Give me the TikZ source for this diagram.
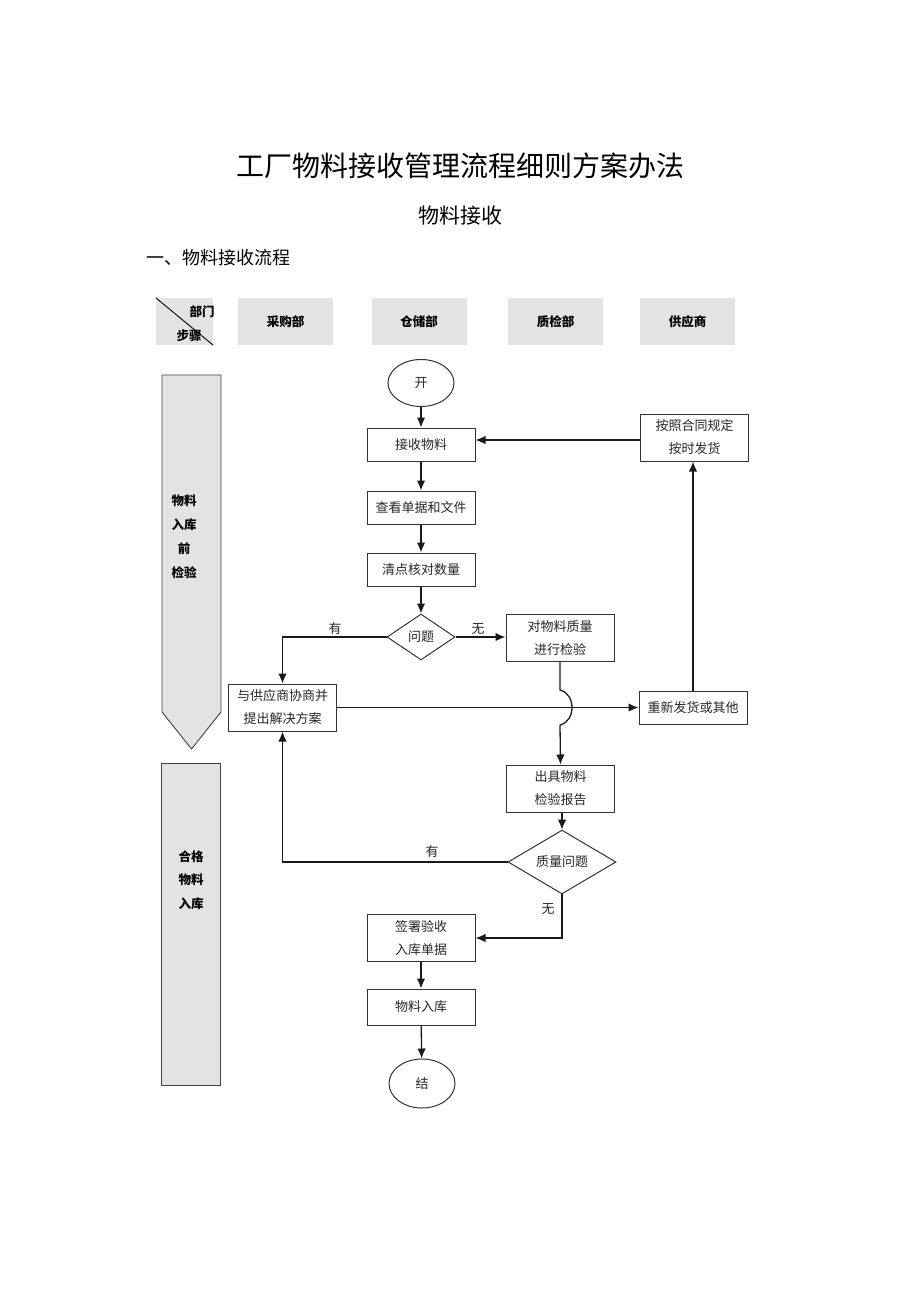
\documentclass[tikz,border=0pt]{standalone}
\usepackage{fontspec}
\setmainfont{Noto Sans CJK SC}
\usetikzlibrary{arrows.meta,shapes.geometric}
\begin{document}
\begin{tikzpicture}[x=1pt,y=-1pt,
  every node/.style={inner sep=0pt},
  hdr/.style={fill=black!11, minimum width=95pt, minimum height=47pt, font=\fontsize{12.5}{14}\selectfont\bfseries},
  box/.style={draw=black!80, line width=1pt, minimum width=108pt, minimum height=33pt, align=center, text=black!85, font=\fontsize{13}{23}\selectfont},
  tall/.style={box, minimum height=47pt},
  dia/.style={draw=black!80, line width=1pt, diamond, aspect=1, minimum width=68pt, minimum height=46pt, text=black!85, font=\fontsize{13}{15}\selectfont},
  oval/.style={draw=black!80, line width=1pt, ellipse, minimum width=66pt, minimum height=47pt, text=black!85, font=\fontsize{13}{15}\selectfont},
  lbl/.style={text=black!85, font=\fontsize{13}{15}\selectfont},
  arr/.style={line width=1.3pt, draw=black!90, -{Latex[length=10pt,width=8.5pt]}},
  ln/.style={line width=1.3pt, draw=black!90}
]
\useasboundingbox (0,0) rectangle (920,1302);
% titles
\node (t1) at (460,166) {\fontsize{28}{30}\selectfont 工厂物料接收管理流程细则方案办法};
\node (t2) at (460,216) {\fontsize{21}{23}\selectfont 物料接收};
\node[anchor=west] (t3) at (146,258) {\fontsize{18}{20}\selectfont 一、物料接收流程};
% header
\node[hdr, minimum width=57pt] (h0) at (184.5,321.5) {};
\draw[line width=0.9pt] (h0.north west) -- (h0.south east);
\node[font=\fontsize{12.5}{14}\selectfont\bfseries] (h0a) at (202,312) {部门};
\node[font=\fontsize{12.5}{14}\selectfont\bfseries] (h0b) at (189,336) {步骤};
\node[hdr] (h1) at (285.5,321.5) {采购部};
\node[hdr] (h2) at (419,321.5) {仓储部};
\node[hdr] (h3) at (555.5,321.5) {质检部};
\node[hdr] (h4) at (687.5,321.5) {供应商};
% left stages
\draw[fill=black!11, draw=black!75, line width=0.9pt] (162,375) -- (221,375) -- (221,712) -- (191.5,749) -- (162,712) -- cycle;
\node[align=center, font=\fontsize{12.5}{24}\selectfont\bfseries] (s1) at (184,537) {物料\\入库\\前\\检验};
\node[fill=black!11, draw=black!75, line width=0.9pt, minimum width=59pt, minimum height=322pt] (s2box) at (191,924) {};
\node[align=center, font=\fontsize{12.5}{23.5}\selectfont\bfseries] (s2) at (191,880) {合格\\物料\\入库};
% flow nodes
\node[oval] (start) at (421,383) {开};
\node[box] (jieshou) at (421,444.5) {接收物料};
\node[box] (chakan) at (421,507.5) {查看单据和文件};
\node[box] (qingdian) at (421,569.5) {清点核对数量};
\node[dia] (wenti) at (421,637) {问题};
\node[tall] (dui) at (560,638) {对物料质量\\进行检验};
\node[tall] (xieshang) at (282.5,707.5) {与供应商协商并\\提出解决方案};
\node[box] (chongxin) at (693,707.5) {重新发货或其他};
\node[tall] (anzhao) at (694.5,437.5) {按照合同规定\\按时发货};
\node[tall] (chuju) at (560.5,788.5) {出具物料\\检验报告};
\node[dia, minimum width=108pt] (zlwt) at (562,862) {质量问题};
\node[tall] (qianshu) at (421,938) {签署验收\\入库单据};
\node[box, minimum height=36pt] (ruku) at (421,1007) {物料入库};
\node[oval, minimum height=49pt] (end) at (422,1083.5) {结};
% connectors
\draw[arr] (start) -- (jieshou);
\draw[arr] (jieshou) -- (chakan);
\draw[arr] (chakan) -- (qingdian);
\draw[arr] (qingdian) -- (wenti);
\draw[arr] (wenti.west) -| (xieshang.north);
\node[lbl] (you1) at (335,629) {有};
\draw[arr] (wenti.east) -- (wenti.east -| dui.west);
\node[lbl] (wu1) at (478,629) {无};
\coordinate (hopA) at (560,690);
\coordinate (hopB) at (560,725);
\draw[ln] (dui.south) -- (hopA) .. controls (576,694) and (576,721) .. (hopB);
\draw[arr] (hopB) -- (chuju.north);
\draw[arr] (xieshang.east) -- (chongxin.west);
\draw[arr] (chongxin.north) -- (chongxin.north |- anzhao.south);
\draw[arr] (anzhao.west |- 0,440) -- (jieshou.east |- 0,440);
\draw[arr] (chuju.south -| zlwt.north) -- (zlwt.north);
\draw[arr] (zlwt.west) -| (xieshang.south);
\node[lbl] (you2) at (432,852) {有};
\draw[arr] (zlwt.south) |- (qianshu.east);
\node[lbl] (wu2) at (548,909) {无};
\draw[arr] (qianshu) -- (ruku);
\draw[arr] (ruku) -- (end);
\end{tikzpicture}
\end{document}
